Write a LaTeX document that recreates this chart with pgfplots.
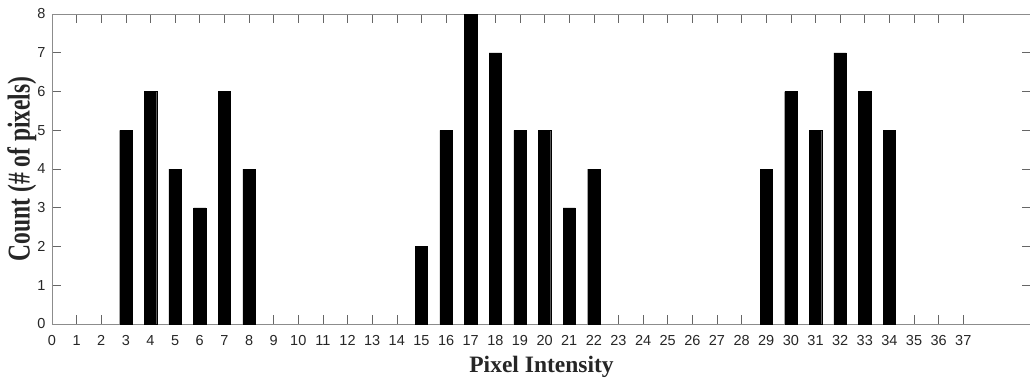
\documentclass[border=0pt]{standalone}
\usepackage{fontspec}
\setmainfont{Liberation Serif}
\newfontfamily\helv{Liberation Sans}
\usepackage{graphicx}
\usepackage{pgfplots}
\pgfplotsset{compat=1.18}
\begin{document}
\begin{tikzpicture}
\begin{axis}[
  at={(0,0)}, anchor=south west,
  scale only axis,
  width=979pt, height=310pt,
  xmin=0, xmax=39.75, ymin=0, ymax=8,
  xtick={0,1,...,37}, ytick={0,1,...,8},
  tick align=inside,
  major tick length=9pt,
  axis line style={draw=black!45, line width=0.9pt},
  every tick/.style={draw=black!60, line width=0.6pt},
  /pgf/number format/assume math mode=true,
  tick label style={font=\helv\fontsize{14.5}{14.5}\selectfont, text=black!85},
  xticklabel style={anchor=base, yshift=-21pt},
  yticklabel style={xshift=-3pt},
  xlabel={Pixel Intensity},
  ylabel={\scalebox{1}[1.35]{Count (\# of pixels)}},
  label style={font=\bfseries\fontsize{23.5}{23.5}\selectfont, text=black!85},
  xlabel style={at={(axis description cs:0.5,0)}, anchor=base, yshift=-48pt},
  ylabel style={at={(axis description cs:-0.0307,0.5)}, anchor=center},
]
\addplot[ybar, bar width=0.5, fill=black, draw=black, line width=0.3pt] coordinates {
(3,5) (4,6) (5,4) (6,3) (7,6) (8,4)
(15,2) (16,5) (17,8) (18,7) (19,5) (20,5) (21,3) (22,4)
(29,4) (30,6) (31,5) (32,7) (33,6) (34,5)
};
\end{axis}
\pgfresetboundingbox
\path[use as bounding box] (-52pt,-54pt) rectangle (978pt,324pt);
\end{tikzpicture}
\end{document}
